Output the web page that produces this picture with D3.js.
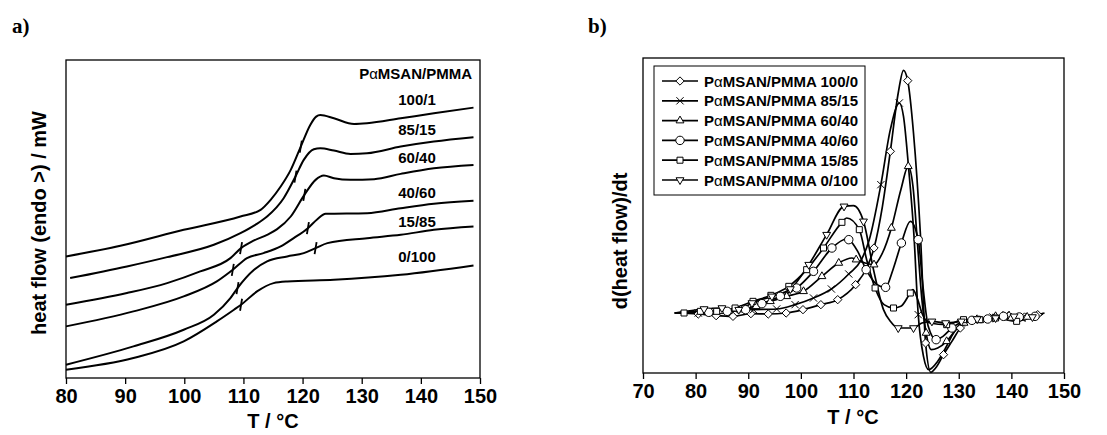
<!DOCTYPE html>
<html>
<head>
<meta charset="utf-8">
<script src="https://cdn.jsdelivr.net/npm/d3@7"></script>
<style>
body{margin:0;background:#fff}
text{font-family:"Liberation Sans",Arial,sans-serif;font-weight:bold;fill:#000}
</style>
</head>
<body>
<script>
var width = 1107, height = 435

// panel a) heat flow curves, [T, arbitrary heat flow]
var labelsA = ["100/1","85/15","60/40","40/60","15/85","0/100"]
var curve100_1 = [[80,3.65],[89.2,3.97],[99.9,4.45],[109.5,4.85],[112.9,5.05],[114.6,5.35],[116.3,5.75],[118,6.25],[119.7,6.95],[121.3,7.6],[122.3,7.85],[123,7.9],[125.3,7.8],[128.7,7.63],[130.9,7.65],[136.6,7.8],[142.2,7.95],[148.9,8.12]]
var curve85_15 = [[80.7,3.0],[90.3,3.35],[97.1,3.63],[105,4.0],[109.5,4.35],[112,4.6],[114,4.85],[116.8,5.4],[118.8,6.05],[120.2,6.55],[121.9,6.87],[123,6.9],[125.3,6.83],[128.1,6.73],[130.9,6.75],[136.6,6.95],[142.2,7.1],[148.9,7.23]]
var curve60_40 = [[80,2.2],[90.3,2.55],[97.1,2.85],[102.7,3.2],[107.8,3.6],[109.6,3.9],[111.8,4.13],[114,4.3],[115.7,4.47],[118,4.85],[120.3,5.5],[122.2,5.95],[123.6,6.08],[125.3,6.0],[128.1,5.95],[132.1,5.97],[136.6,6.13],[142.2,6.3],[148.9,6.4]]
var curve40_60 = [[80,1.55],[91.4,2.0],[99.9,2.45],[105.5,2.9],[108.2,3.25],[110.6,3.6],[113.4,3.75],[116.3,3.95],[118.5,4.2],[120.9,4.5],[122.5,4.77],[123.9,4.93],[130.9,4.95],[136.6,5.1],[142.2,5.23],[148.9,5.32]]
var curve15_85 = [[80,0.4],[91.4,0.95],[99.9,1.45],[105,1.9],[107.8,2.4],[109,2.7],[111.8,3.25],[114,3.5],[117.4,3.65],[120.2,3.75],[122.2,3.9],[124.2,4.05],[130.9,4.2],[136.6,4.3],[142.2,4.45],[148.9,4.55]]
var curve0_100 = [[80,0.25],[91.4,0.6],[99.9,1.1],[105.5,1.7],[108.4,2.05],[109.6,2.2],[112.3,2.6],[115.1,2.85],[117.4,2.9],[125.3,2.95],[136.6,3.1],[148.9,3.38]]
var curvesA = [curve100_1, curve85_15, curve60_40, curve40_60, curve15_85, curve0_100]
// Tg marks on the curves
var tgMarks = [[119.7,6.95],[118.8,6.05],[109.6,3.9],[120.3,5.5],[108.2,3.25],[120.9,4.5],[109.0,2.7],[122.2,3.9],[109.6,2.2]]
var xTicksA = [80,90,100,110,120,130,140,150]

// panel b) derivative curves, [T, d(heat flow)/dt, marker]
var labelsB = ["100/0","85/15","60/40","40/60","15/85","0/100"]
var deriv100_0 = [[76,0,0],[80.5,-0.03,1],[83.9,-0.08,1],[87.1,-0.1,1],[90.5,-0.02,1],[93.8,-0.03,1],[97.2,0,1],[100.4,0.1,1],[103.8,0.25,1],[107,0.4,1],[110.4,0.85,1],[112.5,1.35,0],[113.9,1.95,1],[115.5,3.2,0],[117,4.85,1],[118.5,6.6,0],[119.5,7.28,0],[120.3,6.97,1],[121.4,5.4,0],[122.7,2.4,0],[123.7,-0.9,1],[124.7,-1.78,0],[125.6,-1.65,0],[127.1,-1.25,1],[128.7,-0.85,0],[130.3,-0.45,1],[131.5,-0.25,0],[133.5,-0.18,1],[136.5,-0.15,1],[139.5,-0.08,1],[142.5,-0.12,1],[145,-0.05,1],[146.3,0,0]]
var deriv85_15 = [[77,0.02,0],[80.5,0,1],[84,0.05,1],[87.5,0.08,1],[91,0.1,1],[95.4,0.12,1],[98.9,0.25,1],[102.4,0.45,1],[105.8,0.72,1],[109.1,1.17,1],[111.5,1.6,0],[113,2.2,0],[115.2,3.85,1],[117,5.5,0],[118.7,6.3,1],[119.5,5.9,0],[120.5,4.3,0],[121.5,2.3,0],[122.3,-0.05,1],[123.3,-1.3,0],[124.3,-1.7,0],[126,-1.45,0],[127.5,-1.05,0],[129,-0.6,0],[130.5,-0.3,1],[133.5,-0.2,1],[136.5,-0.12,1],[139,-0.05,1],[142,-0.15,1],[144.5,-0.08,0],[146,-0.02,0]]
var deriv60_40 = [[78,0.02,0],[81.5,0.05,1],[85,0.05,1],[88.5,0.1,1],[91.5,0.2,1],[94.2,0.35,1],[97.3,0.5,1],[100.5,0.65,1],[104,1.1,1],[107.2,1.5,1],[109.7,1.65,0],[110.5,1.6,1],[112.2,1.5,0],[113.9,1.45,1],[115.5,1.8,0],[117.2,2.55,1],[119,3.7,0],[120.4,4.4,1],[121.3,3.8,0],[122.2,2.0,0],[123,0.4,0],[123.8,-0.6,1],[124.8,-1.1,0],[126,-1.05,0],[127.7,-0.85,1],[129.5,-0.5,0],[131,-0.3,1],[134,-0.22,1],[137,-0.1,1],[140,-0.15,1],[143,-0.12,1],[145.8,-0.05,0]]
var deriv40_60 = [[77,0,0],[82.5,0.02,1],[86,0.05,1],[89.5,0.1,1],[92.6,0.28,1],[96.1,0.5,1],[99.2,0.75,1],[102.4,1.25,1],[105.9,1.95,1],[108.7,2.22,0],[109.1,2.2,1],[110.8,1.85,0],[112.4,1.3,1],[114.5,0.85,0],[116.1,0.77,1],[117.5,1.3,0],[119.1,2.1,1],[120.8,2.75,0],[122.3,2.2,1],[123.2,0.8,0],[124.2,-0.4,0],[125.7,-0.8,1],[127,-0.7,0],[128.7,-0.45,1],[130.2,-0.3,0],[132.5,-0.22,1],[135.5,-0.18,1],[138.5,-0.1,1],[141.5,-0.12,1],[144.5,-0.1,1],[146,-0.03,0]]
var deriv15_85 = [[76,0,0],[77.8,0,1],[80.9,0.05,1],[84,0.05,1],[87.5,0.15,1],[90.9,0.35,1],[94.3,0.53,1],[97.7,0.8,1],[101.1,1.3,1],[104.3,1.95,1],[107.8,2.72,1],[108.7,2.85,0],[111.1,2.5,1],[112.5,1.6,0],[114.1,0.75,1],[115.8,0.25,0],[117.6,0.15,1],[119,0.2,0],[120.8,0.6,1],[121.3,0.7,0],[122.2,0.4,0],[123,0,0],[124.5,-0.3,0],[127.7,-0.35,1],[130.9,-0.2,1],[134,-0.2,1],[137,-0.15,1],[141,-0.25,1],[144,-0.12,0],[145.5,-0.08,0]]
var deriv0_100 = [[76,0,0],[81.6,0.12,1],[85,0.15,1],[88.2,0.1,1],[90.7,0.3,1],[94.5,0.5,1],[98,0.72,1],[101.5,1.45,1],[104.9,2.35,1],[108.2,3.2,1],[110,3.22,0],[111.9,2.75,1],[113.8,1.3,0],[115.7,0.1,0],[117,-0.25,0],[118.5,-0.45,1],[121.4,-0.45,1],[123,-0.3,0],[124.9,-0.25,1],[127.5,-0.3,1],[130.5,-0.25,1],[133.5,-0.18,1],[137,-0.15,1],[140.5,-0.1,1],[144,-0.12,1],[145.6,-0.06,0]]
var derivs = [deriv100_0, deriv85_15, deriv60_40, deriv40_60, deriv15_85, deriv0_100]
var xTicksB = [70,80,90,100,110,120,130,140,150]

var svg = d3.select("body").append("svg").attr("width", width).attr("height", height)

function panelLetter(x, txt){
  svg.append("text").attr("x", x).attr("y", 33)
    .style("font-family", "'Liberation Serif','Times New Roman',serif").style("font-size", "21px")
    .text(txt)
}

// ---------- panel a
var xa = d3.scaleLinear().domain([80,150]).range([66,480])
var ya = d3.scaleLinear().domain([0,9.55]).range([378,60])
panelLetter(12, "a)")

var ga = svg.append("g")
ga.append("g").attr("transform", "translate(0,378)")
  .call(d3.axisBottom(xa).tickValues(xTicksA).tickSize(6).tickPadding(5).tickSizeOuter(0))
  .call(function(g){
    g.select(".domain").remove()
    g.selectAll("line").attr("stroke", "#000").attr("stroke-width", 1.3)
    g.selectAll("text").style("font-size", "20px").style("font-family", null)
  })
ga.append("rect").attr("x", 66).attr("y", 60).attr("width", 414).attr("height", 318)
  .attr("fill", "none").attr("stroke", "#000").attr("stroke-width", 1.3)

var lineA = d3.line().x(function(d){return xa(d[0])}).y(function(d){return ya(d[1])}).curve(d3.curveMonotoneX)
ga.selectAll(".curveA").data(curvesA).enter().append("path")
  .attr("class", "curveA").attr("d", lineA)
  .attr("fill", "none").attr("stroke", "#000").attr("stroke-width", 2)
ga.selectAll(".tg").data(tgMarks).enter().append("line")
  .attr("x1", function(d){return xa(d[0]) - 1}).attr("x2", function(d){return xa(d[0]) + 1})
  .attr("y1", function(d){return ya(d[1]) + 6}).attr("y2", function(d){return ya(d[1]) - 6})
  .attr("stroke", "#000").attr("stroke-width", 1.8)

var head = ga.append("text").attr("x", 472).attr("y", 79).attr("text-anchor", "end").style("font-size", "15px")
head.append("tspan").text("P")
head.append("tspan").style("font-weight", "normal").text("α")
head.append("tspan").text("MSAN/PMMA")
var labelYA = [105,135,163,198,227,262]
ga.selectAll(".lab").data(labelsA).enter().append("text")
  .attr("x", 417).attr("y", function(d,i){return labelYA[i]})
  .attr("text-anchor", "middle").style("font-size", "15px").text(function(d){return d})

svg.append("text").attr("x", 273).attr("y", 428).attr("text-anchor", "middle").style("font-size", "20px").text("T / °C")
svg.append("text").attr("transform", "translate(46,223) rotate(-90)").attr("text-anchor", "middle")
  .style("font-size", "20px").text("heat flow (endo >) / mW")

// ---------- panel b
var xb = d3.scaleLinear().domain([70,150]).range([643,1064])
var yb = d3.scaleLinear().domain([-1.8,7.65]).range([373,58])
panelLetter(588, "b)")

var gb = svg.append("g")
gb.append("g").attr("transform", "translate(0,373)")
  .call(d3.axisBottom(xb).tickValues(xTicksB).tickSize(6).tickPadding(5).tickSizeOuter(0))
  .call(function(g){
    g.select(".domain").remove()
    g.selectAll("line").attr("stroke", "#000").attr("stroke-width", 1.3)
    g.selectAll("text").style("font-size", "20px").style("font-family", null)
  })
gb.append("rect").attr("x", 643).attr("y", 58).attr("width", 421).attr("height", 315)
  .attr("fill", "none").attr("stroke", "#000").attr("stroke-width", 1.3)

var symbols = [d3.symbolDiamond2, d3.symbolTimes, d3.symbolTriangle2, d3.symbolCircle, d3.symbolSquare2, d3.symbolTriangle2]
var symSize = [44, 36, 44, 56, 46, 44]
var symRot = [0, 0, 0, 0, 0, 180]

function marker(sel, i){
  sel.attr("d", d3.symbol().type(symbols[i]).size(symSize[i]))
    .attr("fill", "#fff").attr("stroke", "#000").attr("stroke-width", 1)
}

var lineB = d3.line().x(function(d){return xb(d[0])}).y(function(d){return yb(d[1])}).curve(d3.curveMonotoneX)
derivs.forEach(function(s, i){
  gb.append("path").datum(s).attr("d", lineB)
    .attr("fill", "none").attr("stroke", "#000").attr("stroke-width", 1.7)
})
derivs.forEach(function(s, i){
  gb.selectAll(".m" + i).data(s.filter(function(d){return d[2]})).enter().append("path")
    .attr("class", "m" + i)
    .attr("transform", function(d){return "translate(" + xb(d[0]) + "," + yb(d[1]) + ") rotate(" + symRot[i] + ")"})
    .call(marker, i)
})

// legend
var lg = gb.append("g").attr("transform", "translate(654,66)")
lg.append("rect").attr("width", 211).attr("height", 129).attr("fill", "#fff").attr("stroke", "#000").attr("stroke-width", 1)
var row = lg.selectAll(".row").data(labelsB).enter().append("g")
  .attr("transform", function(d,i){return "translate(0," + (15 + i*19.8) + ")"})
row.append("line").attr("x1", 8).attr("x2", 44).attr("stroke", "#000").attr("stroke-width", 1.7)
row.each(function(d,i){
  d3.select(this).append("path").attr("transform", "translate(26,0) rotate(" + symRot[i] + ")").call(marker, i)
})
var rt = row.append("text").attr("x", 50).attr("y", 5.5).style("font-size", "15px")
rt.append("tspan").text("P")
rt.append("tspan").style("font-weight", "normal").text("α")
rt.append("tspan").text(function(d){return "MSAN/PMMA " + d})

svg.append("text").attr("x", 853).attr("y", 424).attr("text-anchor", "middle").style("font-size", "20px").text("T / °C")
svg.append("text").attr("transform", "translate(627,241) rotate(-90)").attr("text-anchor", "middle")
  .style("font-size", "20px").text("d(heat flow)/dt")
</script>
</body>
</html>
